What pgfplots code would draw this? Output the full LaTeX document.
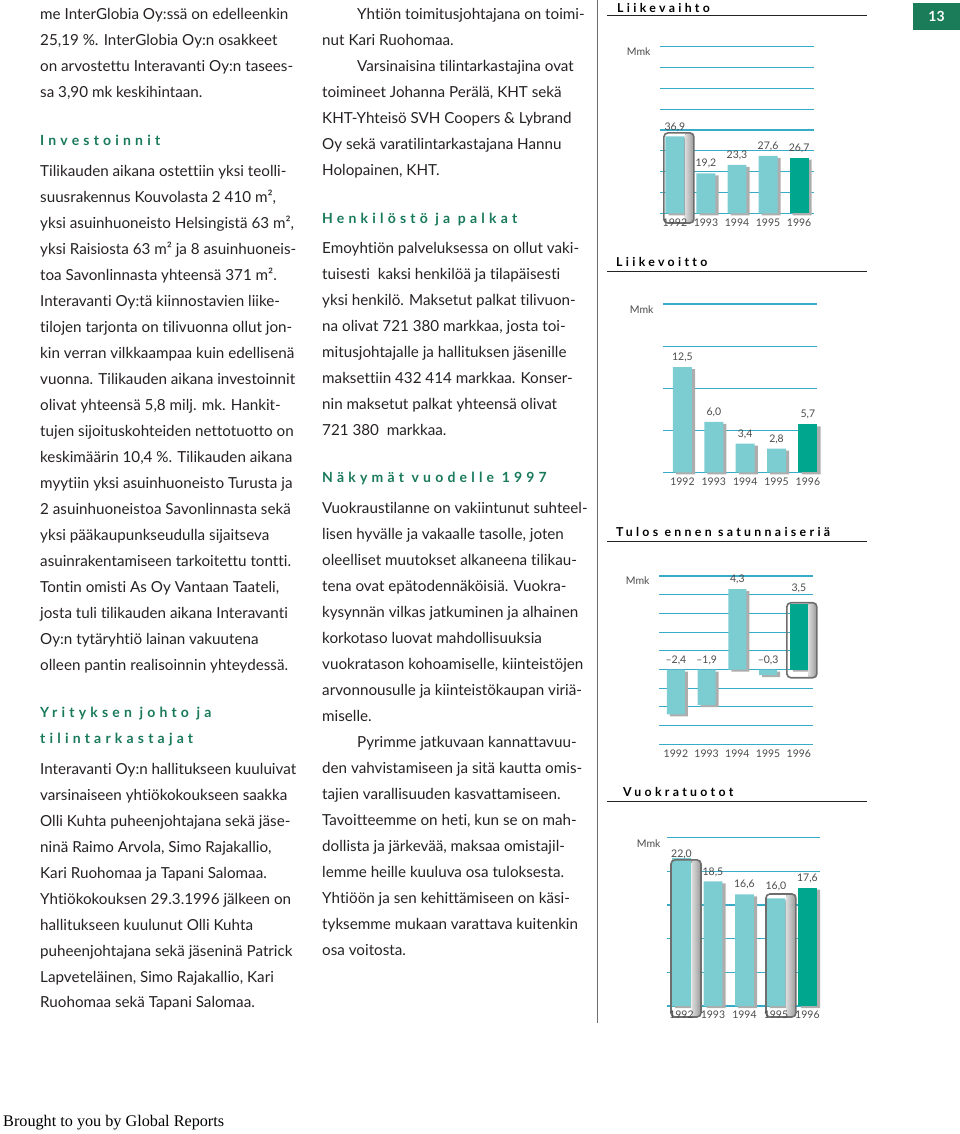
\documentclass[border=0pt]{standalone}
\usepackage{fontspec}
\setmainfont[Ligatures=NoCommon]{Lato}
\newfontfamily\headfont[LetterSpace=30,Ligatures=NoCommon]{Lato}
\newfontfamily\ctfont[LetterSpace=27,Ligatures=NoCommon]{Lato}
\newfontfamily\serifont{Liberation Serif}
\usepackage{pgfplots}
\usepackage{pgfplotstable}
\pgfplotsset{compat=1.18}

\definecolor{bodyc}{HTML}{262223}
\definecolor{headg}{HTML}{18795B}
\definecolor{boxg}{HTML}{1A7C58}
\definecolor{gridc}{HTML}{38ABC7}
\definecolor{barc}{HTML}{7CCDD2}
\definecolor{bar96}{HTML}{00A78E}
\definecolor{shadowc}{HTML}{ADADAD}
\definecolor{framec}{HTML}{6E6E6E}
\definecolor{labc}{HTML}{4A4A4A}

\newcommand\bodyfont{\fontsize{15.2}{17}\selectfont}
\newcommand\chfont{\fontsize{10.5}{12}\selectfont}
\newcommand\Ln[3]{\node[anchor=base west,inner sep=0pt,text=bodyc,font=\bodyfont] at (#1,-#2) {#3};}
\newcommand\Hd[3]{\node[anchor=base west,inner sep=0pt,text=headg,font=\headfont\bfseries\fontsize{14}{16}\selectfont] at (#1,-#2) {#3};}
\newcommand\Ct[3]{\node[anchor=base west,inner sep=0pt,text=black,font=\ctfont\bfseries\fontsize{12.3}{14}\selectfont] at (#1,-#2) {#3};}

\tikzset{
  glass/.style={left color=white, right color=gray!65, rounded corners=3pt, opacity=0.85},
  hframe/.style={draw=framec, line width=1.6pt, rounded corners=4pt},
}
\pgfplotsset{
  chart/.style={
    scale only axis, anchor=south west, clip=false,
    axis line style={draw=none}, tick style={draw=none}, major tick length=0pt,
    ymajorgrids, grid style={gridc, line width=1.1pt},
    yticklabels={}, xtick=\empty,
  },
  shadowbar/.style={ybar, bar shift=0.1, fill=shadowc, draw=none, yshift=-2pt, forget plot},
  lightbar/.style={ybar, bar shift=0, fill=barc, draw=none, restrict x to domain=0:3},
  darkbar/.style={ybar, bar shift=0, fill=bar96, draw=none, restrict x to domain=3.5:4.5},
  vlabels/.style={draw=none, mark=none, nodes near coords, point meta=explicit symbolic,
    every node near coord/.append style={font=\chfont, text=labc, anchor=center, yshift=9.5pt}},
  years/.style={draw=none, mark=none, nodes near coords, point meta=explicit symbolic,
    every node near coord/.append style={font=\chfont, text=labc, anchor=center, yshift=-9pt}},
}

\pgfplotstableread{
x y
0 36.9
1 19.2
2 23.3
3 27.6
4 26.7
}\liikevaihto
\pgfplotstableread{
x y
0 12.5
1 6.0
2 3.4
3 2.8
4 5.7
}\liikevoitto
\pgfplotstableread{
x y
0 -2.4
1 -1.9
2 4.3
3 -0.3
4 3.5
}\tulos
\pgfplotstableread{
x y
0 22.0
1 18.5
2 16.6
3 16.0
4 17.6
}\vuokra

\begin{document}
\begin{tikzpicture}[x=1pt,y=1pt]
\useasboundingbox (0,0) rectangle (960,-1134);

% ---------------- left column
\Ln{40}{19.5}{me InterGlobia Oy:ssä on edelleenkin}
\Ln{40}{45.5}{25,19 \%. InterGlobia Oy:n osakkeet}
\Ln{40}{71.5}{on arvostettu Interavanti Oy:n tasees-}
\Ln{40}{97.5}{sa 3,90 mk keskihintaan.}
\Hd{40}{145.5}{Investoinnit}
\Ln{40}{176.5}{Tilikauden aikana ostettiin yksi teolli-}
\Ln{40}{202.5}{suusrakennus Kouvolasta 2 410 m²,}
\Ln{40}{228.5}{yksi asuinhuoneisto Helsingistä 63 m²,}
\Ln{40}{254.5}{yksi Raisiosta 63 m² ja 8 asuinhuoneis-}
\Ln{40}{280.5}{toa Savonlinnasta yhteensä 371 m².}
\Ln{40}{306.5}{Interavanti Oy:tä kiinnostavien liike-}
\Ln{40}{332.5}{tilojen tarjonta on tilivuonna ollut jon-}
\Ln{40}{358.5}{kin verran vilkkaampaa kuin edellisenä}
\Ln{40}{384.5}{vuonna. Tilikauden aikana investoinnit}
\Ln{40}{410.5}{olivat yhteensä 5,8 milj. mk. Hankit-}
\Ln{40}{436.5}{tujen sijoituskohteiden nettotuotto on}
\Ln{40}{462.5}{keskimäärin 10,4 \%. Tilikauden aikana}
\Ln{40}{488.5}{myytiin yksi asuinhuoneisto Turusta ja}
\Ln{40}{514.5}{2 asuinhuoneistoa Savonlinnasta sekä}
\Ln{40}{540.5}{yksi pääkaupunkseudulla sijaitseva}
\Ln{40}{566.5}{asuinrakentamiseen tarkoitettu tontti.}
\Ln{40}{592.5}{Tontin omisti As Oy Vantaan Taateli,}
\Ln{40}{618.5}{josta tuli tilikauden aikana Interavanti}
\Ln{40}{644.5}{Oy:n tytäryhtiö lainan vakuutena}
\Ln{40}{670.5}{olleen pantin realisoinnin yhteydessä.}
\Hd{40}{717}{Yrityksen johto ja}
\Hd{40}{743}{tilintarkastajat}
\Ln{40}{774}{Interavanti Oy:n hallitukseen kuuluivat}
\Ln{40}{800}{varsinaiseen yhtiökokoukseen saakka}
\Ln{40}{826}{Olli Kuhta puheenjohtajana sekä jäse-}
\Ln{40}{852}{ninä Raimo Arvola, Simo Rajakallio,}
\Ln{40}{878}{Kari Ruohomaa ja Tapani Salomaa.}
\Ln{40}{904}{Yhtiökokouksen 29.3.1996 jälkeen on}
\Ln{40}{930}{hallitukseen kuulunut Olli Kuhta}
\Ln{40}{956}{puheenjohtajana sekä jäseninä Patrick}
\Ln{40}{982}{Lapveteläinen, Simo Rajakallio, Kari}
\Ln{40}{1007}{Ruohomaa sekä Tapani Salomaa.}

% ---------------- middle column
\Ln{357}{19.5}{Yhtiön toimitusjohtajana on toimi-}
\Ln{322}{45.5}{nut Kari Ruohomaa.}
\Ln{357}{71.5}{Varsinaisina tilintarkastajina ovat}
\Ln{322}{97.5}{toimineet Johanna Perälä, KHT sekä}
\Ln{322}{123.5}{KHT-Yhteisö SVH Coopers \& Lybrand}
\Ln{322}{149.5}{Oy sekä varatilintarkastajana Hannu}
\Ln{322}{175.5}{Holopainen, KHT.}
\Hd{322}{223}{Henkilöstö ja palkat}
\Ln{322}{253}{Emoyhtiön palveluksessa on ollut vaki-}
\Ln{322}{279}{tuisesti\ \ kaksi henkilöä ja tilapäisesti}
\Ln{322}{305}{yksi henkilö. Maksetut palkat tilivuon-}
\Ln{322}{331}{na olivat 721 380 markkaa, josta toi-}
\Ln{322}{357}{mitusjohtajalle ja hallituksen jäsenille}
\Ln{322}{383}{maksettiin 432 414 markkaa. Konser-}
\Ln{322}{409}{nin maksetut palkat yhteensä olivat}
\Ln{322}{435}{721 380\ \ markkaa.}
\Hd{322}{482.5}{Näkymät vuodelle 1997}
\Ln{322}{513.5}{Vuokraustilanne on vakiintunut suhteel-}
\Ln{322}{539.5}{lisen hyvälle ja vakaalle tasolle, joten}
\Ln{322}{565.5}{oleelliset muutokset alkaneena tilikau-}
\Ln{322}{591.5}{tena ovat epätodennäköisiä. Vuokra-}
\Ln{322}{617.5}{kysynnän vilkas jatkuminen ja alhainen}
\Ln{322}{643.5}{korkotaso luovat mahdollisuuksia}
\Ln{322}{669.5}{vuokratason kohoamiselle, kiinteistöjen}
\Ln{322}{695.5}{arvonnousulle ja kiinteistökaupan viriä-}
\Ln{322}{721.5}{miselle.}
\Ln{357}{747.5}{Pyrimme jatkuvaan kannattavuu-}
\Ln{322}{773.5}{den vahvistamiseen ja sitä kautta omis-}
\Ln{322}{799.5}{tajien varallisuuden kasvattamiseen.}
\Ln{322}{825.5}{Tavoitteemme on heti, kun se on mah-}
\Ln{322}{851.5}{dollista ja järkevää, maksaa omistajil-}
\Ln{322}{877.5}{lemme heille kuuluva osa tuloksesta.}
\Ln{322}{903.5}{Yhtiöön ja sen kehittämiseen on käsi-}
\Ln{322}{929.5}{tyksemme mukaan varattava kuitenkin}
\Ln{322}{955.5}{osa voitosta.}

% separator, page number, footer
\draw[color=framec, line width=0.9pt] (597,0) -- (597,-1023);
\fill[boxg] (913,-3) rectangle (960,-30);
\node[text=white, font=\bfseries\fontsize{14}{16}\selectfont] at (936.5,-16.5) {13};
\node[anchor=base west, inner sep=0pt, font=\serifont\fontsize{16.2}{18}\selectfont] at (3,-1126) {Brought to you by Global Reports};

% chart titles
\Ct{617}{12.3}{Liikevaihto}
\draw[color=bodyc, line width=0.9pt] (607,-15.7) -- (867,-15.7);
\Ct{616}{266}{Liikevoitto}
\draw[color=bodyc, line width=0.9pt] (607,-271.7) -- (867,-271.7);
\Ct{616}{536.5}{Tulos ennen satunnaiseriä}
\draw[color=bodyc, line width=0.9pt] (607,-541) -- (867,-541);
\Ct{623}{796.7}{Vuokratuotot}
\draw[color=bodyc, line width=0.9pt] (607,-801) -- (867,-801);

% ---------------- chart 1: Liikevaihto
\begin{axis}[chart, at={(660pt,-213.3pt)}, width=154pt, height=166.6pt,
  xmin=-0.48, xmax=4.48, ymin=0, ymax=80, ytick={0,10,...,80}, bar width=0.61]
\addplot[shadowbar] table {\liikevaihto};
\addplot[lightbar] table {\liikevaihto};
\addplot[darkbar] table {\liikevaihto};
\addplot[vlabels] coordinates {(0,36.9)[36,9] (1,19.2)[19,2] (2,23.3)[23,3] (3,27.6)[27,6] (4,26.7)[26,7]};
\node[anchor=east, font=\chfont, text=labc] at (rel axis cs:0,1) [xshift=-6pt, yshift=-5pt] {Mmk};
\fill[glass] (axis cs:0.32,38.6) rectangle (axis cs:0.613,-4.66);
\draw[hframe] (axis cs:-0.355,38.6) rectangle (axis cs:0.613,-4.66);
\addplot[years] coordinates {(0,0)[1992] (1,0)[1993] (2,0)[1994] (3,0)[1995] (4,0)[1996]};
\end{axis}

% ---------------- chart 2: Liikevoitto
\begin{axis}[chart, at={(663pt,-472.3pt)}, width=154pt, height=168.3pt,
  xmin=-0.62, xmax=4.29, ymin=0, ymax=20, ytick={0,5,...,20}, bar width=0.605]
\addplot[shadowbar] table {\liikevoitto};
\addplot[lightbar] table {\liikevoitto};
\addplot[darkbar] table {\liikevoitto};
\addplot[vlabels] coordinates {(0,12.5)[12,5] (1,6.0)[6,0] (2,3.4)[3,4] (3,2.8)[2,8] (4,5.7)[5,7]};
\node[anchor=east, font=\chfont, text=labc] at (rel axis cs:0,1) [xshift=-6pt, yshift=-6pt] {Mmk};
\addplot[years] coordinates {(0,0)[1992] (1,0)[1993] (2,0)[1994] (3,0)[1995] (4,0)[1996]};
\end{axis}

% ---------------- chart 3: Tulos ennen satunnaiseriä
\begin{axis}[chart, at={(659pt,-744.3pt)}, width=154pt, height=168.3pt,
  xmin=-0.55, xmax=4.46, ymin=-4, ymax=5, ytick={-4,-3,...,5}, bar width=0.585]
\addplot[shadowbar] table {\tulos};
\addplot[lightbar] table {\tulos};
\addplot[darkbar] table {\tulos};
\addplot[vlabels] coordinates {(0,0)[–2,4] (1,0)[–1,9] (2,4.3)[4,3] (3,0)[–0,3] (4,3.82)[3,5]};
\node[anchor=east, font=\chfont, text=labc] at (rel axis cs:0,1) [xshift=-6pt, yshift=-5pt] {Mmk};
\fill[glass] (axis cs:4.3,3.57) rectangle (axis cs:4.585,-0.44);
\draw[hframe] (axis cs:3.61,3.57) rectangle (axis cs:4.585,-0.44);
\addplot[years] coordinates {(0,-4)[1992] (1,-4)[1993] (2,-4)[1994] (3,-4)[1995] (4,-4)[1996]};
\end{axis}

% ---------------- chart 4: Vuokratuotot
\begin{axis}[chart, at={(667pt,-1006pt)}, width=153pt, height=168.3pt,
  xmin=-0.46, xmax=4.40, ymin=0, ymax=25, ytick={0,5,...,25}, bar width=0.6]
\addplot[shadowbar] table {\vuokra};
\addplot[lightbar] table {\vuokra};
\addplot[darkbar] table {\vuokra};
\addplot[vlabels] coordinates {(0,21.1)[22,0] (1,18.5)[18,5] (2,16.6)[16,6] (3,16.3)[16,0] (4,17.6)[17,6]};
\node[anchor=east, font=\chfont, text=labc] at (rel axis cs:0,1) [xshift=-3pt, yshift=-5.5pt] {Mmk};
\fill[glass] (axis cs:0.32,21.7) rectangle (axis cs:0.619,-1.63);
\draw[hframe] (axis cs:-0.333,21.7) rectangle (axis cs:0.619,-1.63);
\fill[glass] (axis cs:3.32,16.64) rectangle (axis cs:3.635,-1.63);
\draw[hframe] (axis cs:2.683,16.64) rectangle (axis cs:3.635,-1.63);
\addplot[years] coordinates {(0,0)[1992] (1,0)[1993] (2,0)[1994] (3,0)[1995] (4,0)[1996]};
\end{axis}
\end{tikzpicture}
\end{document}
